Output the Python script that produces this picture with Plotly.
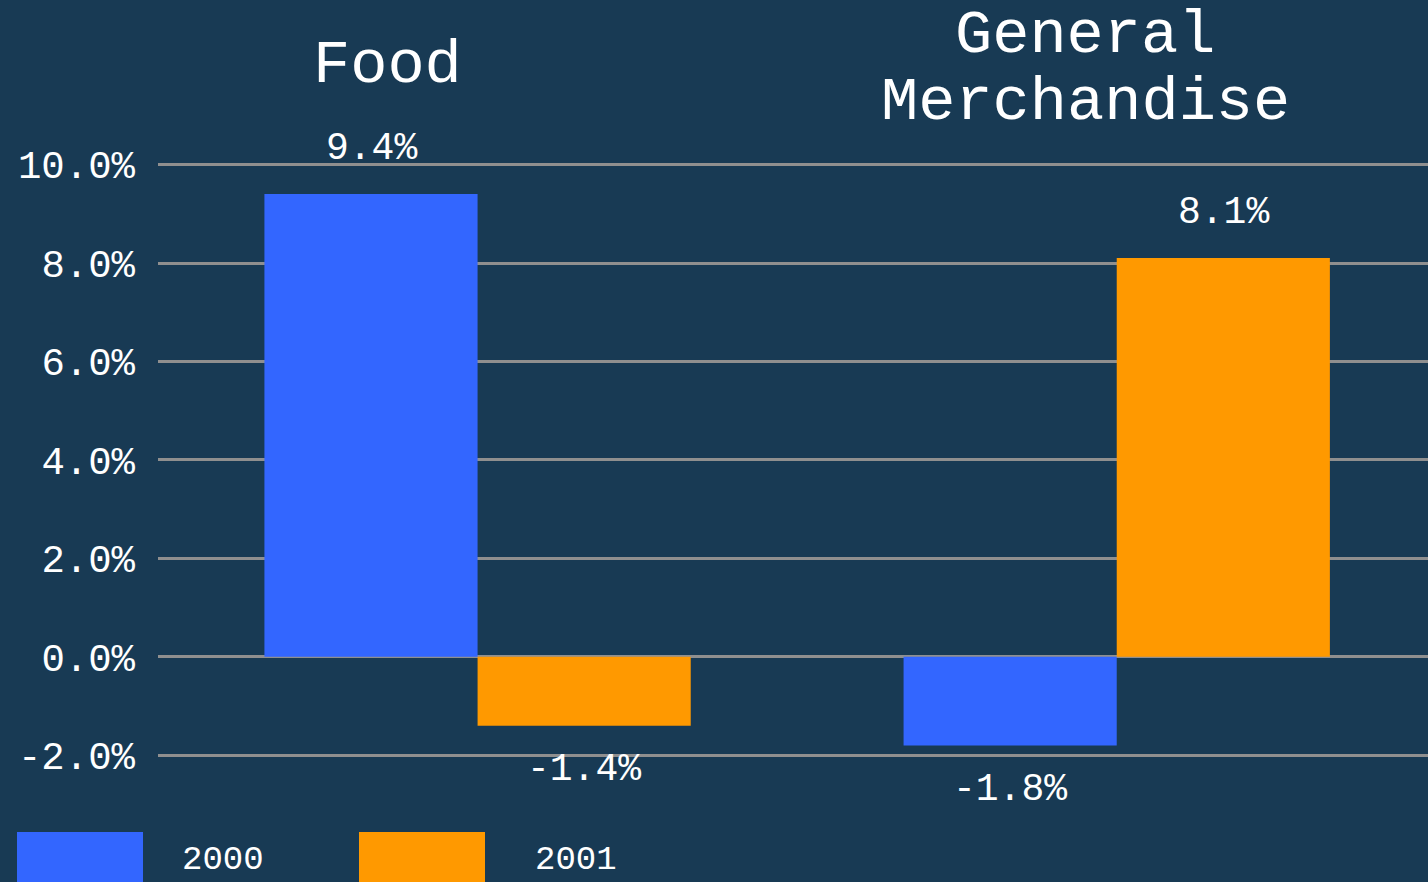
import plotly.graph_objects as go

categories = ["Food", "General Merchandise"]
title_lines = [["Food"], ["General", "Merchandise"]]
series_names = ["2000", "2001"]
values_2000 = [9.4, -1.8]
values_2001 = [-1.4, 8.1]
tick_vals = [-2, 0, 2, 4, 6, 8, 10]
tick_text = ["-2.0%", "0.0%", "2.0%", "4.0%", "6.0%", "8.0%", "10.0%"]

BG = "#183a54"
BLUE = "#3366ff"
ORANGE = "#ff9900"
GRID = "#8f8f8f"
FONT = "Liberation Mono, Courier New, monospace"

W, H = 1428, 882
L, R, T, B = 158, 0, 135, 107
PW, PH = W - L - R, H - T - B

def px(x):
    return (x - L) / PW

def py(y):
    return (H - B - y) / PH

fig = go.Figure()
series = [(series_names[0], values_2000, BLUE), (series_names[1], values_2001, ORANGE)]
for name, vals, col in series:
    fig.add_trace(go.Bar(x=[0, 1], y=vals, name=name, marker=dict(color=col, line=dict(width=0)),
                         showlegend=False, hoverinfo="skip"))

bargap = 0.333
bw = (1 - bargap) / 2
annotations = []
for si, (name, vals, col) in enumerate(series):
    off = -bw / 2 if si == 0 else bw / 2
    for ci, v in enumerate(vals):
        annotations.append(dict(x=ci + off, y=v, xref="x", yref="y", text=f"{v:.1f}%",
                                showarrow=False, yshift=(46 if v > 0 else -44),
                                font=dict(family=FONT, size=38, color="white"),
                                yanchor="middle", xanchor="center"))

# category headers
title_pos = [(387, [65]), (1085, [35, 103])]
for (cx, ys), lines in zip(title_pos, title_lines):
    for ln, yy in zip(lines, ys):
        annotations.append(dict(x=px(cx), y=py(yy), xref="paper", yref="paper", text=ln,
                                showarrow=False, xanchor="center", yanchor="middle",
                                font=dict(family=FONT, size=62, color="white")))

# custom legend
shapes = []
legend_items = [(17, 143, 180, BLUE, series_names[0]), (359, 485, 533, ORANGE, series_names[1])]
for x0, x1, tx, col, nm in legend_items:
    shapes.append(dict(type="rect", xref="paper", yref="paper", x0=px(x0), x1=px(x1),
                       y0=py(900), y1=py(832), fillcolor=col, line=dict(width=0), layer="above"))
    annotations.append(dict(x=px(tx), y=py(860), xref="paper", yref="paper", text=nm,
                            showarrow=False, xanchor="left", yanchor="middle",
                            font=dict(family=FONT, size=34, color="white")))

fig.update_layout(
    width=W, height=H,
    paper_bgcolor=BG, plot_bgcolor=BG,
    margin=dict(l=L, r=R, t=T, b=B, pad=0),
    barmode="group", bargap=bargap, bargroupgap=0,
    showlegend=False,
    annotations=annotations, shapes=shapes,
    xaxis=dict(range=[-0.5, 1.487], showticklabels=False, showgrid=False, zeroline=False,
               showline=False, ticks=""),
    yaxis=dict(range=[-2.4, 10.6], tickvals=tick_vals, ticktext=tick_text,
               tickfont=dict(family=FONT, size=39, color="white"),
               showgrid=True, gridcolor=GRID, gridwidth=3,
               zeroline=True, zerolinecolor=GRID, zerolinewidth=3,
               showline=False, ticks="", ticklabelstandoff=22),
)
fig.write_html("out.html", config={"displayModeBar": False},
               post_script="document.body.style.margin='0';document.body.style.overflow='hidden';"
                           "document.body.style.background='" + BG + "';")
